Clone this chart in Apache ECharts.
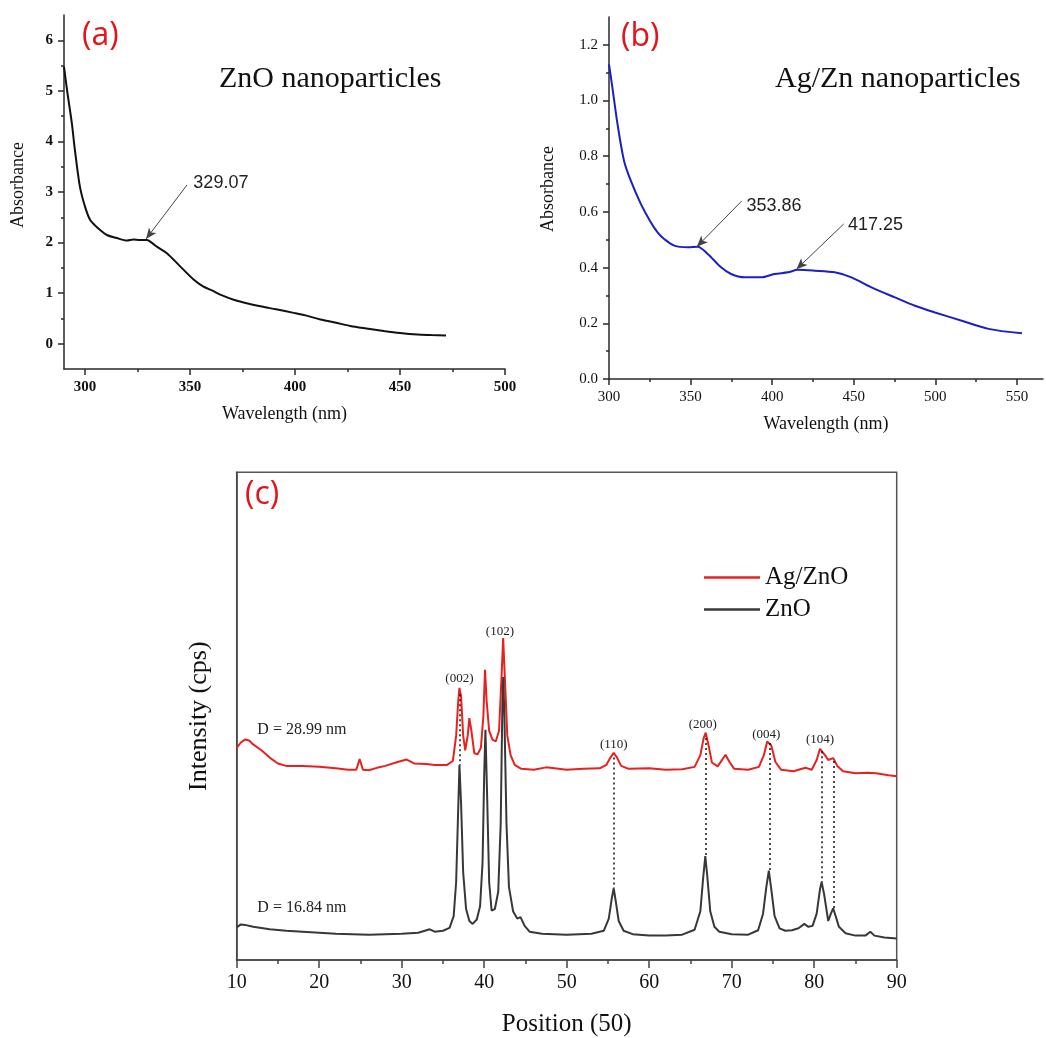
<!DOCTYPE html>
<html><head><meta charset="utf-8">
<script src="https://cdn.jsdelivr.net/npm/echarts@6/dist/echarts.min.js"></script>
<style>html,body{margin:0;padding:0;background:#fff}#c{width:1046px;height:1038px}</style>
</head><body><div id="c"></div>
<script>
// ---------- Panel (a): ZnO UV-vis ----------
const wavelengthA = [290, 291.5, 293.7, 295.2, 297.6, 300, 302.4, 305, 307.2, 310.4, 315.1, 320, 323, 326, 329.5, 332, 334.2, 339, 345.3, 351.7, 356, 361.2, 365, 370.8, 377, 383.5, 391, 399.4, 405, 412.1, 419, 426.4, 434, 442.3, 450, 458.3, 465, 471.9];
const absorbanceA = [5.48, 5.0, 4.37, 3.83, 3.1, 2.71, 2.45, 2.33, 2.25, 2.15, 2.09, 2.04, 2.06, 2.05, 2.05, 1.99, 1.92, 1.79, 1.53, 1.27, 1.14, 1.04, 0.96, 0.87, 0.8, 0.74, 0.68, 0.61, 0.56, 0.48, 0.42, 0.35, 0.30, 0.25, 0.21, 0.18, 0.17, 0.16];
const xTicksA = [300, 350, 400, 450, 500];
const xMinorA = [325, 375, 425, 475];
const yTicksA = [0, 1, 2, 3, 4, 5, 6];
const yMinorA = [0.5, 1.5, 2.5, 3.5, 4.5, 5.5];
const annotLabelsA = ['329.07'];
const annotTipA = [[329.07, 2.07]];
const annotTailA = [[348.6, 3.14]];
const annotTextA = [[351.6, 3.18]];

// ---------- Panel (b): Ag/Zn UV-vis ----------
const wavelengthB = [300, 302, 305.2, 309.2, 313.3, 319.5, 325.6, 330, 333.8, 340, 348.2, 354.3, 360.5, 368.7, 374.8, 383, 393.3, 401.4, 409.7, 415.8, 426, 438.3, 448.6, 460.9, 475.2, 487.5, 499.8, 516.2, 532.6, 553.1];
const absorbanceB = [1.13, 1.05, 0.916, 0.784, 0.713, 0.629, 0.563, 0.525, 0.503, 0.479, 0.473, 0.475, 0.449, 0.401, 0.377, 0.365, 0.365, 0.377, 0.383, 0.392, 0.389, 0.383, 0.365, 0.329, 0.293, 0.263, 0.239, 0.209, 0.180, 0.164];
const xTicksB = [300, 350, 400, 450, 500, 550];
const xMinorB = [325, 375, 425, 475, 525];
const yTicksB = [0, 0.2, 0.4, 0.6, 0.8, 1.0, 1.2];
const yMinorB = [0.1, 0.3, 0.5, 0.7, 0.9, 1.1];
const annotLabelsB = ['353.86', '417.25'];
const annotTipB = [[353.86, 0.475], [414.9, 0.394]];
const annotTailB = [[381.3, 0.639], [443.9, 0.557]];
const annotTextB = [[384.3, 0.621], [446.5, 0.553]];

// ---------- Panel (c): XRD ----------
const thetaAgZnO = [10, 10.5, 11, 11.5, 12, 13, 14, 15, 16, 18, 20, 22, 23.5, 24.5, 24.9, 25.3, 26, 27, 28, 29.5, 30.6, 31.5, 33, 34, 35.5, 36.2, 36.6, 36.85, 37.0, 37.2, 37.45, 37.7, 38.0, 38.2, 38.45, 38.8, 39.2, 39.6, 39.9, 40.1, 40.3, 40.6, 41.0, 41.4, 41.8, 42.1, 42.3, 42.5, 42.8, 43.2, 43.7, 44.5, 46, 47.5, 48, 50, 52, 54, 54.8, 55.3, 55.7, 56.1, 56.6, 57.5, 60, 62, 64, 65.5, 66.2, 66.6, 66.85, 67.2, 67.6, 68.3, 68.9, 69.25, 69.7, 70.3, 72, 73.3, 73.9, 74.3, 74.5, 74.8, 75.3, 76, 77.5, 78.5, 79, 79.7, 80.3, 80.7, 80.9, 81.3, 81.7, 82.3, 82.8, 83.5, 85, 86.5, 87.5, 89, 90];
const intAgZnO = [43.5, 44.6, 45.2, 45.0, 44.2, 43.0, 41.5, 40.3, 39.8, 39.8, 39.6, 39.3, 39.0, 39.0, 41.2, 39.0, 38.9, 39.4, 39.8, 40.6, 41.1, 40.3, 40.2, 40.0, 40.0, 40.8, 46, 53, 55.8, 54, 46, 43, 46, 49.6, 47, 42.4, 42.2, 43.5, 50, 59.5, 53, 47, 45.2, 44.8, 47, 58, 66, 58, 46, 42, 40, 39.2, 39, 39.5, 39.4, 39, 39.2, 39.3, 40, 41.5, 42.5, 41.5, 39.8, 39.2, 39.3, 39, 39.1, 39.6, 42, 45.5, 46.6, 44, 40.5, 39.7, 41.2, 42.1, 40.7, 39.2, 39, 39.6, 42, 44.8, 45.2, 44, 40.6, 39, 38.7, 39.2, 39.4, 39, 41, 43.3, 43.5, 42, 41, 41.4, 39.8, 38.7, 38.3, 38.4, 38.3, 37.9, 37.7];
const thetaZnO = [10, 10.5, 11, 12, 14, 16, 18, 20, 22, 24, 26, 28, 30, 32, 33.4, 34, 35, 35.8, 36.3, 36.6, 36.8, 37.0, 37.2, 37.45, 37.8, 38.2, 38.6, 39.1, 39.5, 39.8, 40.0, 40.15, 40.35, 40.6, 40.9, 41.3, 41.7, 42.0, 42.2, 42.3, 42.45, 42.7, 43.0, 43.5, 44.0, 44.4, 44.9, 45.5, 47, 50, 53, 54.5, 55.1, 55.45, 55.7, 55.95, 56.3, 56.9, 58, 60, 62, 64, 65.5, 66.2, 66.55, 66.8, 67.05, 67.4, 67.9, 68.5, 70, 72, 73.2, 73.8, 74.2, 74.5, 74.8, 75.2, 75.8, 76.5, 77.3, 78.1, 78.8, 79.3, 79.8, 80.3, 80.7, 80.9, 81.2, 81.7, 82.0, 82.3, 82.6, 83.0, 83.8, 85, 86.2, 86.8, 87.3, 88.5, 90];
const intZnO = [6.7, 7.3, 7.2, 6.8, 6.3, 6.0, 5.8, 5.6, 5.4, 5.3, 5.2, 5.3, 5.4, 5.6, 6.3, 5.8, 6.0, 6.6, 9, 16, 28, 40, 32, 18, 10.5, 8, 7.4, 8.3, 11, 20, 38, 47.2, 34, 16, 10.1, 10.5, 14, 28, 52, 58, 50, 28, 15, 10, 8.5, 8.8, 7, 5.8, 5.4, 5.2, 5.4, 6, 8.5, 12.5, 14.7, 12, 8, 6, 5.3, 5, 5, 5.2, 6.2, 10, 17, 21.3, 17, 10, 6.8, 5.8, 5.3, 5.2, 6.1, 9.5, 15, 18.3, 14.5, 9, 6.5, 6, 6.1, 6.5, 7.4, 6.8, 7.0, 9.5, 14.5, 16, 13.5, 8.0, 9.4, 10.6, 9, 6.8, 5.5, 5, 5, 5.8, 5, 4.6, 4.4];
const hklLabels = ['(002)', '(102)', '(110)', '(200)', '(004)', '(104)'];
const hklPos = [[37.0, 57.7], [41.9, 67.3], [55.7, 44.2], [66.5, 48.3], [74.2, 46.2], [80.7, 45.2]];
const dropX = [37.0, 55.7, 66.85, 74.6, 80.9, 82.35];
const dropTop = [54.5, 41.5, 45.5, 44.5, 42.8, 40.8];
const dropBottom = [40, 14.7, 21.3, 18.3, 16, 10.6];
const sizeLabels = ['D = 28.99 nm', 'D = 16.84 nm'];
const sizePos = [[12.5, 47.2], [12.5, 10.8]];

const SERIF = '"Liberation Serif", "Times New Roman", serif';
const SANS = '"Liberation Sans", Arial, sans-serif';
const PANEL_FONT = '32px "Open Sans", Lato, sans-serif';
const zip = (a, b) => a.map((v, i) => [v, b[i]]);
const axisCol = '#2a2a2a';

function arrowLines(tails, tips) {
  return tails.map((t, i) => [
    { coord: t, symbol: 'none' },
    { coord: tips[i], symbol: 'arrow', symbolSize: [7, 11] }
  ]);
}
function textPoints(labels, pos) {
  return labels.map((l, i) => ({ name: l, coord: pos[i] }));
}

function mainX(grid, min, max, ticks, fontWeight, name, fmt) {
  return {
    type: 'value', gridIndex: grid, min: min, max: max, position: 'bottom',
    axisLine: { onZero: false, lineStyle: { color: axisCol, width: 1.5 } },
    axisTick: { customValues: ticks, length: 6, lineStyle: { color: axisCol, width: 1.5 } },
    axisLabel: { customValues: ticks, margin: 11, color: '#111', fontFamily: SERIF, fontSize: 15, fontWeight: fontWeight, formatter: fmt },
    splitLine: { show: false },
    name: name, nameLocation: 'middle', nameGap: 36,
    nameTextStyle: { fontFamily: SERIF, fontSize: 18, color: '#111' }
  };
}
function minorX(grid, min, max, ticks) {
  return {
    type: 'value', gridIndex: grid, min: min, max: max, position: 'bottom',
    axisLine: { show: false, onZero: false },
    axisTick: { customValues: ticks, length: 3, lineStyle: { color: axisCol, width: 1.5 } },
    axisLabel: { show: false }, splitLine: { show: false }
  };
}
function mainY(grid, min, max, ticks, fontWeight, name, nameGap, pad, fmt) {
  return {
    type: 'value', gridIndex: grid, min: min, max: max, position: 'left',
    axisLine: { show: true, onZero: false, lineStyle: { color: axisCol, width: 1.5 } },
    axisTick: { show: true, customValues: ticks, length: 6, lineStyle: { color: axisCol, width: 1.5 } },
    axisLabel: { customValues: ticks, margin: 11, color: '#111', fontFamily: SERIF, fontSize: 15, fontWeight: fontWeight, formatter: fmt },
    splitLine: { show: false },
    name: name, nameLocation: 'middle', nameGap: nameGap,
    nameTextStyle: { fontFamily: SERIF, fontSize: 18, color: '#111', padding: pad }
  };
}
function minorY(grid, min, max, ticks) {
  return {
    type: 'value', gridIndex: grid, min: min, max: max, position: 'left',
    axisLine: { show: false, onZero: false },
    axisTick: { show: true, customValues: ticks, length: 3, lineStyle: { color: axisCol, width: 1.5 } },
    axisLabel: { show: false }, splitLine: { show: false }
  };
}

const arrowMark = (tails, tips) => ({
  silent: true, symbol: ['none', 'arrow'], symbolSize: 10,
  lineStyle: { color: '#444', width: 1, type: 'solid' },
  itemStyle: { color: '#333' },
  label: { show: false }, emphasis: { disabled: true },
  data: arrowLines(tails, tips)
});
const textMark = (labels, pos, font, size, align) => ({
  silent: true, symbol: 'circle', symbolSize: 1, itemStyle: { color: 'rgba(0,0,0,0)' },
  label: { show: true, position: 'inside', align: align, verticalAlign: 'middle', formatter: '{b}', fontFamily: font, fontSize: size, color: '#222' },
  data: textPoints(labels, pos)
});

const chart = echarts.init(document.getElementById('c'), null, { renderer: 'canvas' });
chart.setOption({
  animation: false,
  backgroundColor: '#fff',
  grid: [
    { left: 64, top: 15, width: 441, height: 354 },
    { left: 609, top: 17, width: 434, height: 362 },
    { left: 236.7, top: 472.3, width: 660, height: 488.7, show: true, borderColor: '#555', borderWidth: 1.5, backgroundColor: 'transparent' }
  ],
  legend: {
    data: ['Ag/ZnO', 'ZnO'], orient: 'vertical', left: 704, top: 565, padding: 0,
    icon: 'rect', itemWidth: 56, itemHeight: 2.5, itemGap: 7,
    textStyle: { fontFamily: SERIF, fontSize: 25, color: '#111', lineHeight: 25 }
  },
  xAxis: [
    mainX(0, 290, 500, xTicksA, 'bold', 'Wavelength (nm)'),
    minorX(0, 290, 500, xMinorA),
    mainX(1, 300, 566, xTicksB, 'normal', 'Wavelength (nm)'),
    minorX(1, 300, 566, xMinorB),
    {
      type: 'value', gridIndex: 2, min: 10, max: 90, interval: 10, position: 'bottom',
      axisLine: { onZero: false, lineStyle: { color: '#444', width: 1.5 } },
      axisTick: { length: 8, lineStyle: { color: '#444', width: 1.5 } },
      minorTick: { show: true, splitNumber: 2, length: 4, lineStyle: { color: '#444', width: 1.5 } },
      axisLabel: { margin: 13, color: '#111', fontFamily: SERIF, fontSize: 20 },
      splitLine: { show: false }, minorSplitLine: { show: false },
      name: 'Position (50)', nameLocation: 'middle', nameGap: 52,
      nameTextStyle: { fontFamily: SERIF, fontSize: 25, color: '#111' }
    }
  ],
  yAxis: [
    mainY(0, -0.5, 6.5, yTicksA, 'bold', 'Absorbance', 37, [0, 0, 0, 14]),
    minorY(0, -0.5, 6.5, yMinorA),
    mainY(1, 0, 1.3, yTicksB, 'normal', 'Absorbance', 52, [0, 0, 0, 18], v => v.toFixed(1)),
    minorY(1, 0, 1.3, yMinorB),
    {
      type: 'value', gridIndex: 2, min: 0, max: 100, position: 'left',
      axisLine: { show: true, onZero: false, lineStyle: { color: '#444', width: 1.5 } },
      axisTick: { show: false }, axisLabel: { show: false }, splitLine: { show: false },
      name: 'Intensity (cps)', nameLocation: 'middle', nameGap: 25,
      nameTextStyle: { fontFamily: SERIF, fontSize: 26, color: '#111' }
    }
  ],
  series: [
    {
      name: 'ZnO nanoparticles', type: 'line', xAxisIndex: 0, yAxisIndex: 0,
      data: zip(wavelengthA, absorbanceA), showSymbol: false, smooth: 0.3,
      lineStyle: { color: '#111', width: 2 }, itemStyle: { color: '#111' },
      markLine: arrowMark(annotTailA, annotTipA),
      markPoint: textMark(annotLabelsA, annotTextA, SANS, 18, 'left')
    },
    {
      name: 'Ag/Zn nanoparticles', type: 'line', xAxisIndex: 2, yAxisIndex: 2,
      data: zip(wavelengthB, absorbanceB), showSymbol: false, smooth: 0.3,
      lineStyle: { color: '#1e1ec8', width: 2 }, itemStyle: { color: '#1e1ec8' },
      markLine: arrowMark(annotTailB, annotTipB),
      markPoint: textMark(annotLabelsB, annotTextB, SANS, 18, 'left')
    },
    {
      name: 'ZnO', type: 'line', xAxisIndex: 4, yAxisIndex: 4,
      data: zip(thetaZnO, intZnO), showSymbol: false,
      lineStyle: { color: '#383838', width: 2 }, itemStyle: { color: '#383838' },
      markLine: {
        silent: true, symbol: ['none', 'none'],
        lineStyle: { color: '#111', width: 1.5, type: [2, 3] }, label: { show: false },
        data: dropX.map((x, i) => [{ coord: [x, dropTop[i]] }, { coord: [x, dropBottom[i]] }])
      },
      markPoint: textMark(sizeLabels, sizePos, SERIF, 16, 'left')
    },
    {
      name: 'Ag/ZnO', type: 'line', xAxisIndex: 4, yAxisIndex: 4,
      data: zip(thetaAgZnO, intAgZnO), showSymbol: false, z: 1,
      lineStyle: { color: '#e8211f', width: 2 }, itemStyle: { color: '#e8211f' },
      markPoint: textMark(hklLabels, hklPos, SERIF, 13, 'center')
    }
  ],
  graphic: [
    { type: 'text', left: 82, top: 20, style: { text: '(a)', font: PANEL_FONT, fill: '#e3141b' } },
    { type: 'text', left: 621, top: 21, style: { text: '(b)', font: PANEL_FONT, fill: '#e3141b' } },
    { type: 'text', left: 245, top: 479, style: { text: '(c)', font: PANEL_FONT, fill: '#e3141b' } },
    { type: 'text', left: 219, top: 64, style: { text: 'ZnO nanoparticles', font: '30px ' + SERIF, fill: '#111' } },
    { type: 'text', left: 775, top: 64, style: { text: 'Ag/Zn nanoparticles', font: '30px ' + SERIF, fill: '#111' } }
  ]
});
</script>
</body></html>
